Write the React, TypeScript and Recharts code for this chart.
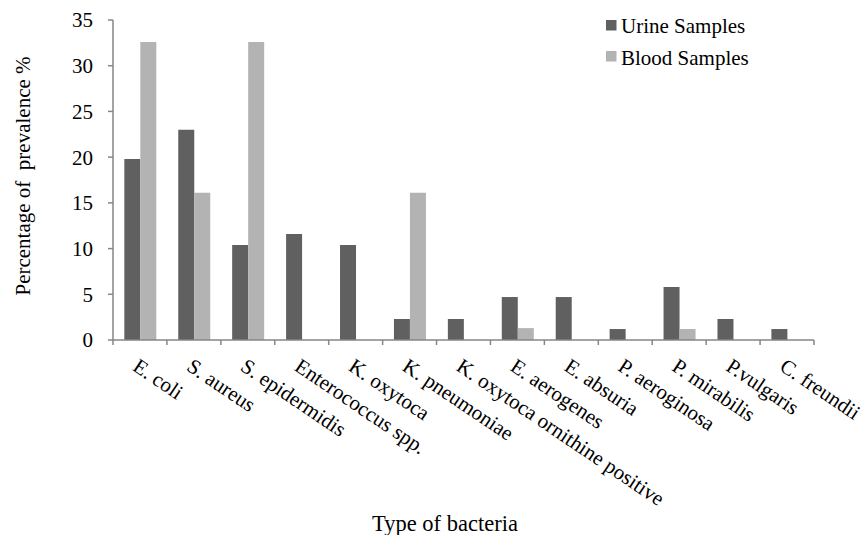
import React from 'react';
import { BarChart, Bar, XAxis, YAxis, Legend, Label } from 'recharts';

const categories = [
  'E. coli',
  'S. aureus',
  'S. epidermidis',
  'Enterococcus spp.',
  'K. oxytoca',
  'K. pneumoniae',
  'K. oxytoca ornithine positive',
  'E. aerogenes',
  'E. absuria',
  'P. aeroginosa',
  'P. mirabilis',
  'P.vulgaris',
  'C. freundii',
];
const urineSamples = [19.8, 23.0, 10.4, 11.6, 10.4, 2.3, 2.3, 4.7, 4.7, 1.2, 5.8, 2.3, 1.2];
const bloodSamples = [32.6, 16.1, 32.6, 0, 0, 16.1, 0, 1.3, 0, 0, 1.2, 0, 0];
const yTicks = [0, 5, 10, 15, 20, 25, 30, 35];
const seriesOrder = ['Urine Samples', 'Blood Samples'];

const data = categories.map((name, i) => ({
  name,
  urine: urineSamples[i],
  blood: bloodSamples[i],
}));

const FONT = '"Liberation Serif", "Times New Roman", Times, serif';
const AXIS = '#868686';
const DARK = '#606060';
const LIGHT = '#b3b3b3';

const BacteriaTick = (props: any) => {
  const { x, y, payload, index } = props;
  const half = payload && payload.offset ? payload.offset : 27;
  const last = index === categories.length - 1;
  return (
    <g>
      <line x1={x - half} y1={y} x2={x - half} y2={y + 5} stroke={AXIS} strokeWidth={1.5} />
      {last && <line x1={x + half} y1={y} x2={x + half} y2={y + 5} stroke={AXIS} strokeWidth={1.5} />}
      <text
        transform={`translate(${x},${y + 17}) rotate(34)`}
        x={0}
        y={0}
        dy="0.72em"
        textAnchor="start"
        fontSize={21}
        fontFamily={FONT}
        fill="#000"
      >
        {payload.value}
      </text>
    </g>
  );
};

const renderLegend = (props: any) => {
  const payload = [...(props.payload || [])].sort(
    (a: any, b: any) => seriesOrder.indexOf(a.value) - seriesOrder.indexOf(b.value)
  );
  return (
    <svg width={220} height={80} style={{ display: 'block' }}>
      {payload.map((item: any, i: number) => (
        <g key={i}>
          <rect x={6} y={20 + i * 31} width={10.5} height={10.5} fill={item.color} />
          <text x={21} y={33 + i * 31.5} fontSize={21} fontFamily={FONT} fill="#000">
            {item.value}
          </text>
        </g>
      ))}
    </svg>
  );
};

export default function App() {
  return (
    <div style={{ position: 'absolute', left: 0, top: 0, background: '#fff' }}>
      <BarChart
        width={867}
        height={535}
        data={data}
        margin={{ top: 20, right: 53, bottom: 0, left: 0 }}
        barGap={0}
        barCategoryGap="21%"
      >
        <XAxis
          dataKey="name"
          height={195}
          interval={0}
          tickLine={false}
          tickSize={0}
          tickMargin={0}
          axisLine={{ stroke: AXIS, strokeWidth: 1.5 }}
          tick={<BacteriaTick />}
        >
          <Label
            content={() => (
              <text x={445} y={531} textAnchor="middle" fontSize={22.5} fontFamily={FONT} fill="#000">
                Type of bacteria
              </text>
            )}
          />
        </XAxis>
        <YAxis
          width={113}
          domain={[0, 35]}
          ticks={yTicks}
          interval={0}
          tickSize={5}
          tickMargin={15}
          axisLine={{ stroke: AXIS, strokeWidth: 1.5 }}
          tickLine={{ stroke: AXIS, strokeWidth: 1.5 }}
          tick={{ fontSize: 21, fontFamily: FONT, fill: '#000' }}
        >
          <Label
            content={() => (
              <text
                x={30}
                y={176}
                transform="rotate(-90, 30, 176)"
                textAnchor="middle"
                fontSize={21}
                fontFamily={FONT}
                fill="#000"
                style={{ whiteSpace: 'pre' }}
              >
                {'Percentage of  prevalence %'}
              </text>
            )}
          />
        </YAxis>
        <Legend
          layout="vertical"
          align="center"
          verticalAlign="middle"
          content={renderLegend}
          wrapperStyle={{ top: 0, left: 600, width: 220, height: 80 }}
        />
        <Bar dataKey="urine" name="Urine Samples" fill={DARK} isAnimationActive={false} />
        <Bar dataKey="blood" name="Blood Samples" fill={LIGHT} isAnimationActive={false} />
      </BarChart>
    </div>
  );
}
